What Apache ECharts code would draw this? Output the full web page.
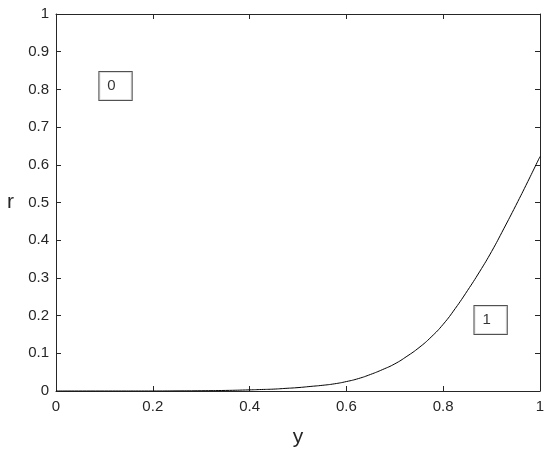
<!DOCTYPE html>
<html><head><meta charset="utf-8">
<script src="https://cdn.jsdelivr.net/npm/echarts@6/dist/echarts.min.js"></script>
<style>html,body{margin:0;padding:0;background:#fff}#c{width:550px;height:453px}</style>
</head><body><div id="c"></div>
<script>
var xValues = [0, 0.1, 0.2, 0.25, 0.3, 0.35, 0.4, 0.425, 0.45, 0.475, 0.5, 0.525, 0.55, 0.575, 0.6, 0.625, 0.65, 0.675, 0.7, 0.725, 0.75, 0.775, 0.8, 0.825, 0.85, 0.875, 0.9, 0.925, 0.95, 0.975, 1.0];
var rValues = [0, 0, 0, 0.0003, 0.0007, 0.0015, 0.003, 0.004, 0.005, 0.007, 0.009, 0.012, 0.015, 0.019, 0.025, 0.033, 0.044, 0.057, 0.072, 0.092, 0.115, 0.143, 0.177, 0.219, 0.266, 0.316, 0.370, 0.430, 0.492, 0.556, 0.622];
var labelTexts = ['0', '1'];
var labelX = [0.123, 0.898];
var labelY = [0.809, 0.188];
var xTicks = [0, 0.2, 0.4, 0.6, 0.8, 1];
var yTicks = [0, 0.1, 0.2, 0.3, 0.4, 0.5, 0.6, 0.7, 0.8, 0.9, 1];

var axisColor = '#262626';
var font = '"Liberation Sans", Arial, sans-serif';
function fmt(v){ return String(Math.round(v*10)/10); }

var chart = echarts.init(document.getElementById('c'), null, {renderer:'canvas'});
var lineData = xValues.map(function(x,i){return [x, rValues[i]];});
var labelData = labelTexts.map(function(t,i){return {value:[labelX[i], labelY[i]], name:t};});

function baseAxis(extra){
  var a = {
    type:'value', min:0, max:1, interval:0.1,
    axisLine:{show:true, onZero:false, lineStyle:{color:axisColor, width:1}},
    axisTick:{show:true, inside:true, length:5, lineStyle:{color:axisColor, width:1}},
    splitLine:{show:false},
    axisLabel:{show:true, color:axisColor, fontSize:15, fontFamily:font, formatter:fmt}
  };
  for (var k in extra) a[k]=extra[k];
  return a;
}

chart.setOption({
  animation:false,
  backgroundColor:'#fff',
  grid:{left:56, right:10, top:14, bottom:61, containLabel:false},
  xAxis:[
    baseAxis({position:'bottom', interval:0.2, name:'y', nameLocation:'middle', nameGap:36,
      nameTextStyle:{color:axisColor, fontSize:21, fontFamily:font},
      axisLabel:{show:true, color:axisColor, fontSize:15, fontFamily:font, margin:8, formatter:fmt}}),
    baseAxis({position:'top', interval:0.2, axisLabel:{show:false}})
  ],
  yAxis:[
    baseAxis({position:'left', name:'r', nameLocation:'middle', nameGap:42, nameRotate:0,
      nameTextStyle:{color:axisColor, fontSize:21, fontFamily:font},
      axisLabel:{show:true, color:axisColor, fontSize:15, fontFamily:font, margin:7, formatter:fmt}}),
    baseAxis({position:'right', axisLabel:{show:false}})
  ],
  series:[
    {type:'line', data:lineData, xAxisIndex:0, yAxisIndex:0, showSymbol:false, smooth:0.5,
     lineStyle:{color:'#000', width:1}},
    {type:'scatter', data:labelData, xAxisIndex:0, yAxisIndex:0, symbolSize:0,
     label:{show:true, position:'inside', formatter:'{b}', color:'#000', fontSize:15, fontFamily:font,
       borderColor:'#262626', borderWidth:1, backgroundColor:'#fff', padding:[7,16,6,8]}}
  ]
});
</script></body></html>
